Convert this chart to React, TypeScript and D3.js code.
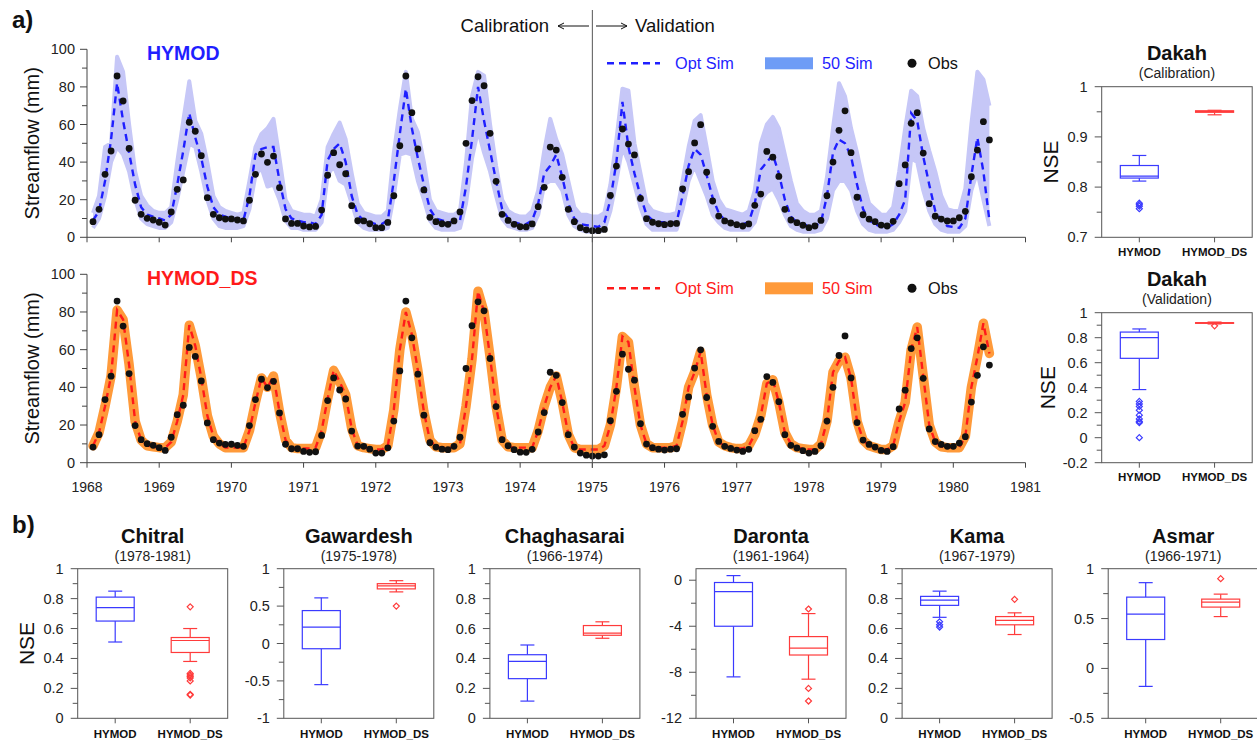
import React from "react";
import * as d3 from "d3";

// monthly series, Feb 1968 .. Jul 1980
const obs = [
  8.3, 14.9, 33.5, 45.9, 85.8, 72.5, 47.3, 19.7, 12.2, 10.1, 9.2, 8.0,
  6.5, 13.5, 25.5, 30.5, 61.2, 56.4, 43.4, 21.1, 12.2, 10.4, 9.7, 9.8,
  9.2, 8.7, 19.7, 33.5, 44.3, 39.9, 43.2, 26.4, 9.8, 7.4, 7.4, 6.0,
  5.5, 5.8, 14.5, 33.0, 45.0, 38.6, 33.8, 16.8, 8.8, 8.7, 7.2, 5.1,
  5.1, 7.9, 22.1, 48.7, 85.8, 66.3, 47.0, 25.2, 10.6, 8.3, 7.2, 6.9,
  8.7, 13.5, 50.0, 72.7, 85.4, 80.6, 55.3, 29.8, 12.2, 9.0, 6.9, 5.6,
  5.5, 7.1, 16.3, 26.6, 48.0, 46.4, 31.9, 14.9, 8.3, 5.1, 4.0, 3.5,
  3.5, 4.2, 22.3, 37.9, 57.6, 49.6, 43.8, 20.7, 9.9, 8.0, 7.2, 6.7,
  7.2, 7.4, 25.7, 34.9, 50.2, 59.9, 34.6, 19.3, 11.3, 8.7, 7.6, 6.7,
  6.0, 7.1, 17.0, 23.0, 45.7, 42.6, 32.4, 14.9, 9.2, 7.8, 6.4, 5.1,
  6.0, 9.0, 22.1, 40.0, 56.9, 67.3, 45.0, 21.3, 12.0, 9.7, 8.3, 6.5,
  6.0, 8.5, 28.5, 38.5, 60.6, 66.3, 44.8, 17.9, 11.2, 9.7, 8.7, 8.7,
  10.4, 13.8, 32.2, 46.4, 61.5, 51.8,
];
const hymodOpt = [
  9, 14, 30, 52, 82, 62, 45, 28, 16, 12, 11, 10,
  9, 12, 28, 46, 66, 53, 42, 27, 16, 12, 11, 10,
  9.5, 9, 22, 44, 47, 48, 48, 30, 15, 10, 9, 8,
  8, 7, 12, 41, 47, 50, 40, 22, 12, 9, 8, 7,
  7, 9, 30, 55, 79, 58, 42, 28, 15, 10, 9, 8,
  8, 9, 27, 52, 80, 62, 46, 30, 15, 10, 8, 7,
  7, 9, 18, 34, 38, 44, 32, 18, 10, 7, 6.5, 6,
  5.5, 8, 20, 40, 72, 48, 34, 22, 12, 9, 8, 8,
  7.5, 8, 22, 38, 47, 44, 33, 21, 13, 9, 8, 7,
  7, 8, 18, 36, 40, 44, 34, 20, 11, 8, 7, 6,
  6, 8, 22, 45, 52, 50, 43, 28, 15, 9, 7, 5.5,
  5, 7, 12, 20, 66, 62, 43, 28, 14, 9, 6, 5.5,
  5, 10, 33, 53, 35, 9,
];
const hymodUpper = [
  13, 22, 48, 50, 96, 88, 60, 35, 22, 17, 14, 13,
  13, 16, 40, 62, 83, 62, 55, 40, 22, 16, 14, 13,
  12, 13, 30, 48, 55, 58, 63, 42, 20, 14, 13, 12,
  12, 11, 20, 48, 55, 61, 52, 34, 18, 13, 12, 11,
  11, 14, 45, 68, 88, 63, 56, 40, 20, 14, 13, 12,
  12, 14, 40, 75, 88, 86, 60, 38, 20, 14, 12, 11,
  11, 14, 25, 46, 63, 52, 44, 30, 16, 12, 12, 11,
  11, 13, 28, 52, 79, 78, 50, 34, 18, 14, 13, 12,
  12, 13, 30, 48, 62, 65, 48, 30, 20, 15, 14, 13,
  12, 14, 25, 50, 60, 64, 58, 44, 30, 18, 14, 12,
  12, 14, 32, 58, 82, 75, 58, 45, 30, 18, 15, 12,
  12, 16, 35, 58, 78, 75, 58, 46, 35, 22, 15, 14,
  14, 26, 60, 88, 84, 70,
];
const hymodLower = [
  5, 10, 22, 40, 48, 44, 35, 20, 10, 7, 6, 5,
  5, 8, 20, 35, 50, 48, 35, 20, 10, 6, 5, 5,
  5, 6, 15, 33, 37, 27, 28, 20, 9, 5, 5, 4,
  4, 4, 8, 33, 38, 30, 28, 18, 8, 5, 4, 4,
  4, 5, 22, 44, 45, 44, 30, 20, 9, 5, 4, 4,
  4, 5, 18, 42, 57, 45, 35, 22, 10, 6, 5, 4,
  4, 5, 12, 28, 30, 30, 25, 12, 6, 4, 3, 3,
  3, 4, 14, 30, 48, 40, 28, 16, 7, 4, 4, 4,
  4, 4, 15, 30, 38, 30, 22, 12, 8, 5, 4, 4,
  4, 4, 8, 20, 24, 26, 20, 12, 6, 4, 3, 3,
  3, 4, 10, 25, 30, 30, 25, 14, 7, 4, 3, 3,
  3, 4, 8, 14, 42, 40, 25, 14, 7, 4, 3, 3,
  3, 6, 25, 35, 20, 6,
];
const dsOpt = [
  9, 16, 30, 46, 81, 76, 52, 22, 12, 9, 8.5, 8,
  8, 11, 22, 36, 73, 62, 45, 25, 14, 10, 8, 8,
  8, 8, 17, 32, 45, 40, 46, 27, 12, 8, 7.5, 7.5,
  7.5, 8, 17, 34, 49, 43, 36, 18, 9, 8, 7.5, 7,
  7, 9, 28, 60, 80, 68, 49, 27, 12, 8.5, 8, 8,
  8, 10, 30, 55, 91, 80, 56, 30, 12, 8.5, 8, 8,
  8, 8, 17, 30, 40, 46, 32, 15, 8, 7, 7, 7,
  7, 9, 20, 40, 67, 64, 40, 20, 10, 8, 8, 8,
  8, 9, 22, 40, 48, 59, 36, 20, 11, 9, 8, 7.5,
  7.5, 9, 15, 25, 42, 44, 32, 16, 10, 8, 7.5, 7,
  7, 10, 22, 48, 54, 56, 45, 22, 12, 9, 8, 7,
  7, 9, 22, 32, 60, 72, 46, 20, 11, 8.5, 8, 8,
  8, 14, 40, 56, 74, 58,
];
const years = d3.range(1968, 1982);

// box stats: [min, q1, median, q3, max]
const models = ["HYMOD", "HYMOD_DS"];
const dakahCal = [[0.812, 0.818, 0.822, 0.843, 0.863], [0.944, 0.949, 0.951, 0.952, 0.953]];
const dakahCalOut = [[0.768, 0.765, 0.762, 0.757], []];
const dakahVal = [[0.385, 0.635, 0.8, 0.845, 0.87], [0.91, 0.915, 0.918, 0.92, 0.925]];
const dakahValOut = [[0.29, 0.27, 0.25, 0.22, 0.18, 0.15, 0.13, 0.12, 0.0], [0.895]];

const stations = ["Chitral", "Gawardesh", "Chaghasarai", "Daronta", "Kama", "Asmar"];
const periods = ["(1978-1981)", "(1975-1978)", "(1966-1974)", "(1961-1964)", "(1967-1979)", "(1966-1971)"];
const stationDomains = [[0, 1], [-1, 1], [0, 1], [-12, 1], [0, 1], [-0.5, 1]];
const stationTicks = [
  [0, 0.2, 0.4, 0.6, 0.8, 1], [-1, -0.5, 0, 0.5, 1], [0, 0.2, 0.4, 0.6, 0.8, 1],
  [0, -4, -8, -12], [0, 0.2, 0.4, 0.6, 0.8, 1], [-0.5, 0, 0.5, 1],
];
const stationMinor = [
  [0.1, 0.3, 0.5, 0.7, 0.9], [-0.75, -0.25, 0.25, 0.75], [0.1, 0.3, 0.5, 0.7, 0.9],
  [-2, -6, -10], [0.1, 0.3, 0.5, 0.7, 0.9], [-0.25, 0.25, 0.75],
];
const hymodBoxes = [
  [0.51, 0.65, 0.74, 0.81, 0.85], [-0.55, -0.07, 0.22, 0.44, 0.61], [0.115, 0.265, 0.38, 0.425, 0.49],
  [-8.4, -4.0, -1.0, -0.2, 0.4], [0.675, 0.755, 0.79, 0.815, 0.85], [-0.18, 0.29, 0.545, 0.715, 0.86],
];
const hymodOut = [[], [], [], [], [0.645, 0.625, 0.61], []];
const dsBoxes = [
  [0.38, 0.44, 0.52, 0.54, 0.6], [0.69, 0.73, 0.77, 0.8, 0.84], [0.535, 0.555, 0.57, 0.62, 0.645],
  [-8.6, -6.5, -5.9, -4.9, -2.9], [0.56, 0.625, 0.655, 0.68, 0.705], [0.52, 0.615, 0.665, 0.695, 0.745],
];
const dsOut = [
  [0.745, 0.3, 0.29, 0.28, 0.27, 0.25, 0.16, 0.155], [0.5], [], [-2.5, -9.4, -10.5], [0.795], [0.9],
];

const FONT = "'Liberation Sans', Arial, sans-serif";
const BLUE = "#1f1fff";
const RED = "#ff1a1a";
const BOX_BLUE = "#3a3aff";
const BOX_RED = "#ff3b3b";

const x = d3.scaleLinear().domain([1968, 1981]).range([87, 1025.5]);
const tOf = (i: number) => 1968 + (i + 1) / 12;

function TsPanel({ top, bottom, model, color, dsMode, showYears }: any) {
  const y = d3.scaleLinear().domain([0, 100]).range([bottom, top]);
  const line = d3.line<number>().x((_, i) => x(tOf(i))).y((d) => y(d));
  const area = d3
    .area<number>()
    .x((_, i) => x(tOf(i)))
    .y0((_, i) => y(hymodLower[i]))
    .y1((d) => y(d));
  const bandCol = dsMode ? "#ff9a3a" : "#c6c7f7";
  const legY = top + 14;
  return (
    <g fontFamily={FONT}>
      {dsMode ? (
        <path d={line(dsOpt) || ""} fill="none" stroke={bandCol} strokeWidth={9.5} strokeLinejoin="round" strokeLinecap="round" />
      ) : (
        <g>
          <path d={area(hymodUpper) || ""} fill={bandCol} />
          <path d={line(hymodUpper) || ""} fill="none" stroke={bandCol} strokeWidth={4} strokeLinejoin="round" />
          <path d={line(hymodLower) || ""} fill="none" stroke={bandCol} strokeWidth={4} strokeLinejoin="round" />
        </g>
      )}
      <path d={line(dsMode ? dsOpt : hymodOpt) || ""} fill="none" stroke={color} strokeWidth={2.4} strokeDasharray="7,5" />
      {obs.map((v, i) => (
        <circle key={i} cx={x(tOf(i))} cy={y(v)} r={3.4} fill="#111" />
      ))}
      {/* axes */}
      <line x1={87} x2={87} y1={top} y2={bottom} stroke="#444" />
      <line x1={87} x2={x(1981)} y1={bottom} y2={bottom} stroke="#444" />
      {d3.range(0, 101, 10).map((v) => (
        <line key={v} x1={v % 20 === 0 ? 80 : 82} x2={87} y1={y(v)} y2={y(v)} stroke="#444" />
      ))}
      {d3.range(0, 101, 20).map((v) => (
        <text key={v} x={75} y={y(v) + 5} textAnchor="end" fontSize={14.5} fill="#222">{v}</text>
      ))}
      {years.map((yr) => (
        <g key={yr}>
          <line x1={x(yr)} x2={x(yr)} y1={bottom} y2={bottom + 5} stroke="#444" />
          {showYears && (
            <text x={x(yr)} y={bottom + 29} textAnchor="middle" fontSize={14} fill="#222">{yr}</text>
          )}
        </g>
      ))}
      <text transform={`translate(39,${(top + bottom) / 2}) rotate(-90)`} textAnchor="middle" fontSize={20} fill="#111">
        Streamflow (mm)
      </text>
      <text x={147} y={top + 11} fontSize={19.5} fontWeight="bold" fill={color}>{model}</text>
      {/* legend */}
      <line x1={607} x2={660} y1={legY} y2={legY} stroke={color} strokeWidth={2.4} strokeDasharray="7,5" />
      <text x={675} y={legY + 5.5} fontSize={16.3} fill={color}>Opt Sim</text>
      <rect x={765} y={legY - 6} width={48} height={12} fill={dsMode ? "#ff9a3a" : "#6e9cf6"} />
      <text x={822} y={legY + 5.5} fontSize={16.3} fill={color}>50 Sim</text>
      <circle cx={912} cy={legY} r={4.5} fill="#111" />
      <text x={928} y={legY + 5.5} fontSize={16.3} fill="#111">Obs</text>
    </g>
  );
}

function diamond(cx: number, cy: number, r = 3) {
  return `M${cx},${cy - r}L${cx + r},${cy}L${cx},${cy + r}L${cx - r},${cy}Z`;
}

function Box({ cx, s, out, y, color }: any) {
  const bw = 38;
  const cw = 14;
  const [mn, q1, md, q3, mx] = s;
  return (
    <g stroke={color} fill="none" strokeWidth={1.2}>
      <line x1={cx} x2={cx} y1={y(mx)} y2={y(q3)} />
      <line x1={cx} x2={cx} y1={y(q1)} y2={y(mn)} />
      <line x1={cx - cw / 2} x2={cx + cw / 2} y1={y(mx)} y2={y(mx)} />
      <line x1={cx - cw / 2} x2={cx + cw / 2} y1={y(mn)} y2={y(mn)} />
      <rect x={cx - bw / 2} y={y(q3)} width={bw} height={Math.max(0.5, y(q1) - y(q3))} fill="#fff" />
      <line x1={cx - bw / 2} x2={cx + bw / 2} y1={y(md)} y2={y(md)} />
      {out.map((v: number, i: number) => (
        <path key={i} d={diamond(cx, y(v))} />
      ))}
    </g>
  );
}

function BoxPanel(p: any) {
  const { x0, top, w, h, domain, ticks, minor, boxes, outs, title, sub, titleY, nse, nseX, catY } = p;
  const y = d3.scaleLinear().domain(domain).range([top + h, top]);
  const xb = d3.scaleBand().domain(models).range([x0, x0 + w]);
  const fmt = (v: number) => String(+v.toFixed(2));
  return (
    <g fontFamily={FONT}>
      <text x={x0 + w / 2} y={titleY} textAnchor="middle" fontSize={20} fontWeight="bold" fill="#111">{title}</text>
      <text x={x0 + w / 2} y={titleY + 18} textAnchor="middle" fontSize={14} fill="#222">{sub}</text>
      <rect x={x0} y={top} width={w} height={h} fill="none" stroke="#555" />
      {ticks.map((v: number) => (
        <g key={v}>
          <line x1={x0 - 7} x2={x0} y1={y(v)} y2={y(v)} stroke="#555" />
          <text x={x0 - 14} y={y(v) + 5} textAnchor="end" fontSize={14.5} fill="#222">{fmt(v)}</text>
        </g>
      ))}
      {minor.map((v: number) => (
        <line key={v} x1={x0 - 5} x2={x0} y1={y(v)} y2={y(v)} stroke="#555" />
      ))}
      {models.map((m, i) => {
        const cx = (xb(m) || 0) + xb.bandwidth() / 2;
        return (
          <g key={m}>
            <line x1={cx} x2={cx} y1={top + h} y2={top + h + 5} stroke="#555" />
            <text x={cx} y={catY} textAnchor="middle" fontSize={11.5} fontWeight="bold" fill="#111">{m}</text>
            <Box cx={cx} s={boxes[i]} out={outs[i]} y={y} color={i === 0 ? BOX_BLUE : BOX_RED} />
          </g>
        );
      })}
      {nse && (
        <text transform={`translate(${nseX},${top + h / 2}) rotate(-90)`} textAnchor="middle" fontSize={21} fill="#111">NSE</text>
      )}
    </g>
  );
}

export default function App() {
  return (
    <svg width={1257} height={740} style={{ position: "absolute", left: 0, top: 0, background: "#fff" }}>
      <rect width={1257} height={740} fill="#fff" />
      <text x={12} y={28} fontFamily={FONT} fontSize={24} fontWeight="bold" fill="#111">a)</text>
      <text x={12} y={533} fontFamily={FONT} fontSize={24} fontWeight="bold" fill="#111">b)</text>

      <TsPanel top={49.3} bottom={237.3} model="HYMOD" color={BLUE} dsMode={false} showYears={false} />
      <TsPanel top={274.3} bottom={462.7} model="HYMOD_DS" color={RED} dsMode={true} showYears={true} />

      {/* calibration / validation split */}
      <line x1={x(1975)} x2={x(1975)} y1={10} y2={468} stroke="#555" />
      <g fontFamily={FONT} fill="#111" fontSize={18.5}>
        <text x={549} y={32} textAnchor="end">Calibration</text>
        <text x={635} y={32}>Validation</text>
      </g>
      <g stroke="#111" strokeWidth={1} fill="none">
        <path d="M589,26H558M558,26l6,-3M558,26l6,3" />
        <path d="M596,26H627M627,26l-6,-3M627,26l-6,3" />
      </g>

      <BoxPanel
        x0={1101.7} top={86.7} w={150.5} h={150.6} domain={[0.7, 1]}
        ticks={[0.7, 0.8, 0.9, 1]} minor={[0.75, 0.85, 0.95]}
        boxes={dakahCal} outs={dakahCalOut} title="Dakah" sub="(Calibration)" titleY={60}
        nse nseX={1058} catY={256}
      />
      <BoxPanel
        x0={1101.7} top={312.7} w={150.5} h={150} domain={[-0.2, 1]}
        ticks={[-0.2, 0, 0.2, 0.4, 0.6, 0.8, 1]} minor={[-0.1, 0.1, 0.3, 0.5, 0.7, 0.9]}
        boxes={dakahVal} outs={dakahValOut} title="Dakah" sub="(Validation)" titleY={286}
        nse nseX={1055} catY={481}
      />

      {stations.map((st, i) => (
        <BoxPanel
          key={st}
          x0={77.7 + i * 206.1} top={568.7} w={150} h={149.6} domain={stationDomains[i]}
          ticks={stationTicks[i]} minor={stationMinor[i]}
          boxes={[hymodBoxes[i], dsBoxes[i]]} outs={[hymodOut[i], dsOut[i]]}
          title={st} sub={periods[i]} titleY={543}
          nse={i === 0} nseX={34} catY={738}
        />
      ))}
    </svg>
  );
}
